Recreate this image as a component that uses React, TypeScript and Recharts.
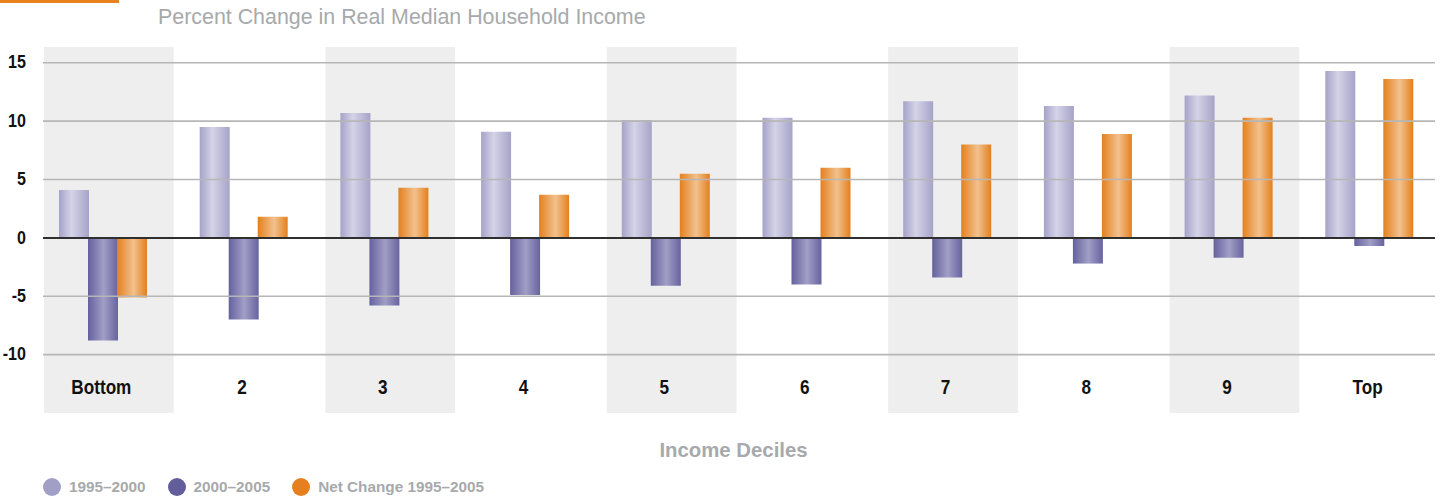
import React from 'react';
import {
  BarChart,
  Bar,
  XAxis,
  YAxis,
  ReferenceArea,
  ReferenceLine,
  Legend,
} from 'recharts';

const categories = ['Bottom', '2', '3', '4', '5', '6', '7', '8', '9', 'Top'];
const change1995to2000 = [4.1, 9.5, 10.7, 9.1, 10.1, 10.3, 11.7, 11.3, 12.2, 14.3];
const change2000to2005 = [-8.8, -7.0, -5.8, -4.9, -4.1, -4.0, -3.4, -2.2, -1.7, -0.7];
const netChange1995to2005 = [-5.1, 1.8, 4.3, 3.7, 5.5, 6.0, 8.0, 8.9, 10.3, 13.6];
const yTicks = [-10, -5, 0, 5, 10, 15];
const gridValues = [-10, -5, 5, 10, 15];
const shadedDeciles = ['Bottom', '3', '5', '7', '9'];
const seriesNames = ['1995–2000', '2000–2005', 'Net Change 1995–2005'];
const titleText = 'Percent Change in Real Median Household Income';
const xTitleText = 'Income Deciles';

const legendColors = ['#a29fc7', '#625e9b', '#e6801f'];
const gradientIds = ['gLight', 'gDark', 'gOrange'];

const data = categories.map((decile, i) => ({
  decile,
  a: change1995to2000[i],
  b: change2000to2005[i],
  c: netChange1995to2005[i],
}));

const FONT = '"Liberation Sans", Arial, sans-serif';
const GRAY_TEXT = '#a7a9ac';

const bandShape = (props: any) => (
  <rect
    x={props.x + 11}
    y={props.y}
    width={props.width - 11}
    height={props.height}
    fill="#edeeed"
    stroke="none"
  />
);

const gridShape = (props: any) => (
  <line
    x1={props.x1 + 10}
    y1={props.y1}
    x2={props.x2 - 5}
    y2={props.y2}
    stroke="#b6b6b6"
    strokeWidth={1.6}
  />
);

const zeroShape = (props: any) => (
  <line
    x1={props.x1 + 10}
    y1={props.y1}
    x2={props.x2 - 5}
    y2={props.y2}
    stroke="#2f2f2f"
    strokeWidth={2}
  />
);

const CondText = ({ x, y, anchor, size, weight, fill, scale, children }: any) => (
  <g transform={`translate(${x},${y}) scale(${scale},1)`}>
    <text
      x={0}
      y={0}
      textAnchor={anchor}
      dominantBaseline="central"
      fontFamily={FONT}
      fontWeight={weight}
      fontSize={size}
      fill={fill}
    >
      {children}
    </text>
  </g>
);

const XTick = (props: any) => {
  const { x, y, payload } = props;
  return (
    <CondText x={x - 2} y={y - 26} anchor="middle" size={19.5} weight={700} fill="#111" scale={0.88}>
      {payload.value}
    </CondText>
  );
};

const YTick = (props: any) => {
  const { y, payload } = props;
  return (
    <CondText x={26} y={y} anchor="end" size={17.5} weight={700} fill="#111" scale={0.92}>
      {payload.value}
    </CondText>
  );
};

const XTitle = (props: any) => {
  const vb = props.viewBox || {};
  return (
    <CondText x={vb.x + vb.width / 2 - 3} y={vb.y + 36} anchor="middle" size={21} weight={700} fill={GRAY_TEXT} scale={0.97}>
      {xTitleText}
    </CondText>
  );
};

const LegendContent = (props: any) => {
  const payload = props.payload || [];
  return (
    <div style={{ display: 'flex', alignItems: 'center', fontFamily: FONT, fontWeight: 700, fontSize: 15.3, color: GRAY_TEXT, lineHeight: '18px' }}>
      {payload.map((p: any, i: number) => (
        <div key={i} style={{ display: 'flex', alignItems: 'center', marginRight: 22 }}>
          <span
            style={{
              display: 'inline-block',
              width: 18,
              height: 18,
              borderRadius: 9,
              background: legendColors[i],
              marginRight: 8,
            }}
          />
          <span>{p.value}</span>
        </div>
      ))}
    </div>
  );
};

export default function App() {
  return (
    <div style={{ position: 'relative', width: 1440, height: 499, background: '#fff', overflow: 'hidden' }}>
      <style>{'body{margin:0;}'}</style>
      <div style={{ position: 'absolute', left: 0, top: 0, width: 119, height: 3, background: '#e8821e' }} />
      <div
        style={{
          position: 'absolute',
          left: 158,
          top: 4,
          fontFamily: FONT,
          fontSize: 21.4,
          lineHeight: '26px',
          color: GRAY_TEXT,
          whiteSpace: 'nowrap',
        }}
      >
        {titleText}
      </div>
      <div style={{ position: 'absolute', left: 0, top: 0 }}>
        <BarChart
          width={1440}
          height={499}
          data={data}
          margin={{ top: 47, right: 0, bottom: 85, left: 0 }}
          barSize={30}
          barGap={-1}
        >
          <defs>
            <linearGradient id="gLight" x1="0" y1="0" x2="1" y2="0">
              <stop offset="0%" stopColor="#a5a2c8" />
              <stop offset="42%" stopColor="#d4d3e7" />
              <stop offset="100%" stopColor="#a6a3c8" />
            </linearGradient>
            <linearGradient id="gDark" x1="0" y1="0" x2="1" y2="0">
              <stop offset="0%" stopColor="#65619e" />
              <stop offset="52%" stopColor="#a19ec6" />
              <stop offset="100%" stopColor="#67639f" />
            </linearGradient>
            <linearGradient id="gOrange" x1="0" y1="0" x2="1" y2="0">
              <stop offset="0%" stopColor="#e4801d" />
              <stop offset="55%" stopColor="#f2c18e" />
              <stop offset="100%" stopColor="#e4801d" />
            </linearGradient>
          </defs>
          <XAxis
            dataKey="decile"
            height={1}
            axisLine={false}
            tickLine={false}
            tickSize={0}
            tickMargin={0}
            tick={<XTick />}
            interval={0}
            label={<XTitle />}
          />
          <YAxis
            width={33}
            domain={[-15, 16.35]}
            ticks={yTicks}
            axisLine={false}
            tickLine={false}
            tick={<YTick />}
            allowDataOverflow
          />
          {shadedDeciles.map((d) => (
            <ReferenceArea key={d} x1={d} x2={d} shape={bandShape} ifOverflow="visible" />
          ))}
          {gridValues.map((v) => (
            <ReferenceLine key={v} y={v} shape={gridShape} />
          ))}
          <Bar dataKey="a" name={seriesNames[0]} fill={`url(#${gradientIds[0]})`} isAnimationActive={false} />
          <Bar dataKey="b" name={seriesNames[1]} fill={`url(#${gradientIds[1]})`} isAnimationActive={false} />
          <Bar dataKey="c" name={seriesNames[2]} fill={`url(#${gradientIds[2]})`} isAnimationActive={false} />
          <ReferenceLine y={0} shape={zeroShape} />
          <Legend
            layout="horizontal"
            verticalAlign="middle"
            align="center"
            content={<LegendContent />}
            wrapperStyle={{ position: 'absolute', left: 43, top: 478, width: 'auto' }}
          />
        </BarChart>
      </div>
    </div>
  );
}
